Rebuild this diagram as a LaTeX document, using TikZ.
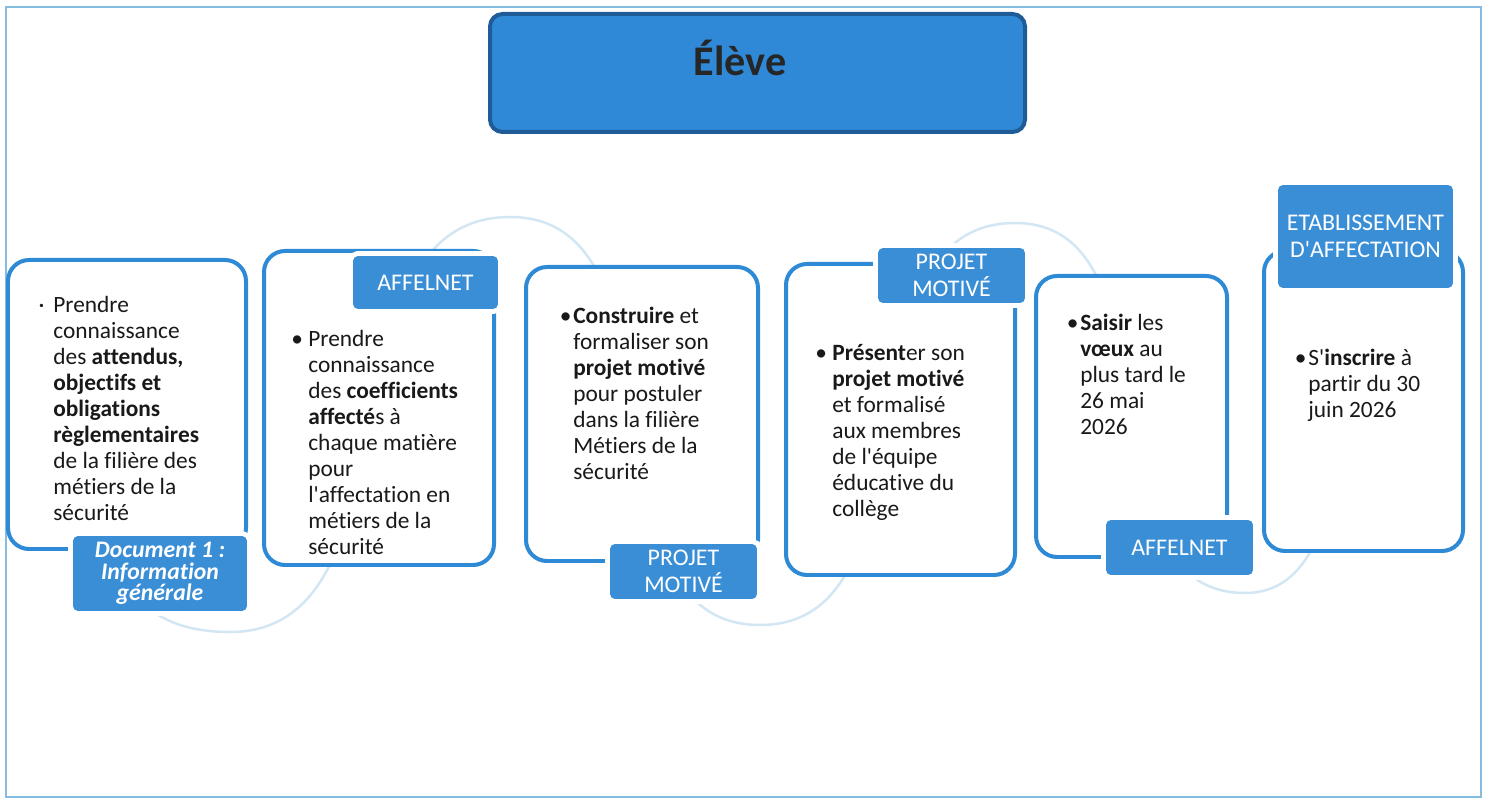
\documentclass[tikz,border=0pt]{standalone}
\usepackage{fontspec}
\setmainfont{Carlito}[Ligatures={TeXOff,CommonOff}]
\usepackage{xcolor}
\usetikzlibrary{fit}

\definecolor{frameblue}{HTML}{86BBE2}
\definecolor{cardblue}{HTML}{2F8AD6}
\definecolor{tagblue}{HTML}{3A8ED6}
\definecolor{headblue}{HTML}{2F89D7}
\definecolor{headline}{HTML}{1F5B96}
\definecolor{waveblue}{HTML}{D2E6F3}

\begin{document}
\begin{tikzpicture}[x=0.02cm, y=-0.02cm,
    card/.style={draw=cardblue, fill=white, line width=0.08cm, rounded corners=0.42cm, inner sep=0pt},
    tag/.style={preaction={draw=white, line width=0.2cm}, fill=tagblue, rounded corners=0.1cm, inner sep=0pt, text=white, align=center, font=\fontsize{13.6}{15.6}\selectfont},
    cardtxt/.style={anchor=north west, inner sep=0pt, align=left, text=black!90, font=\fontsize{13.3}{14.8}\selectfont}]
    \useasboundingbox (0,0) rectangle (1485,800);
    \draw[frameblue, line width=0.03cm] (6,7) rectangle (1481,797);

    \node[draw=headline, fill=headblue, line width=0.08cm, rounded corners=0.25cm, inner sep=0pt, fit={(490,14) (1025,132)}] (eleve) {};
    \node[anchor=base, text=black!85, font=\fontsize{24}{28}\selectfont\bfseries] (eleveTxt) at (740,76) {Élève};

    \draw[waveblue, line width=0.05cm] (120,575) to[out=-60,in=180] (230,632) to[out=0,in=180] (510,217)
        to[out=0,in=180] (760,625) to[out=0,in=180] (1015,223) to[out=0,in=180] (1245,593) to[out=0,in=-100] (1340,450);

    \node[card, fit={(8,260) (246,549)}] (info) {};
    \node[card, fit={(264,251) (494,565)}] (coeff) {};
    \node[card, fit={(526,267) (758,561)}] (construire) {};
    \node[card, fit={(786,264) (1015,575)}] (presenter) {};
    \node[card, fit={(1036,276) (1227,557)}] (voeux) {};
    \node[card, fit={(1264,251) (1463,551)}] (inscrire) {};

    \node[tag, minimum width=3.48cm, minimum height=1.5cm, font=\fontsize{13.5}{12.2}\selectfont\bfseries\itshape] (doc) at (160,573.5) {Document 1 :\\Information\\générale};
    \node[tag, minimum width=2.9cm, minimum height=1.06cm] (affelnetA) at (425.5,282.5) {AFFELNET};
    \node[tag, minimum width=2.94cm, minimum height=1.1cm] (projetA) at (683.5,571.5) {PROJET\\MOTIVÉ};
    \node[tag, minimum width=2.94cm, minimum height=1.1cm] (projetB) at (951.5,275.5) {PROJET\\MOTIVÉ};
    \node[tag, minimum width=2.94cm, minimum height=1.1cm] (affelnetB) at (1179.5,547.5) {AFFELNET};
    \node[tag, minimum width=3.5cm, minimum height=2.06cm] (etab) at (1365.5,236.5) {ETABLISSEMENT\\D'AFFECTATION};

    \node[cardtxt] (infoTxt) at (53,296) {\llap{·\hspace{5pt}}Prendre\\connaissance\\des \textbf{attendus,}\\\textbf{objectifs et}\\\textbf{obligations}\\\textbf{règlementaires}\\de la filière des\\métiers de la\\sécurité};
    \node[cardtxt] (coeffTxt) at (308,330) {\llap{•\hspace{3pt}}Prendre\\connaissance\\des \textbf{coefficients}\\\textbf{affecté}s à\\chaque matière\\pour\\l'affectation en\\métiers de la\\sécurité};
    \node[cardtxt] (construireTxt) at (573,307) {\llap{•\hspace{1pt}}\textbf{Construire} et\\formaliser son\\\textbf{projet motivé}\\pour postuler\\dans la filière\\Métiers de la\\sécurité};
    \node[cardtxt] (presenterTxt) at (832,344) {\llap{•\hspace{3pt}}\textbf{Présent}er son\\\textbf{projet motivé}\\et formalisé\\aux membres\\de l'équipe\\éducative du\\collège};
    \node[cardtxt] (voeuxTxt) at (1080,314) {\llap{•\hspace{1pt}}\textbf{Saisir} les\\\textbf{vœux} au\\plus tard le\\26 mai\\2026};
    \node[cardtxt] (inscrireTxt) at (1308,349) {\llap{•\hspace{1pt}}S'\textbf{inscrire} à\\partir du 30\\juin 2026};
\end{tikzpicture}
\end{document}
